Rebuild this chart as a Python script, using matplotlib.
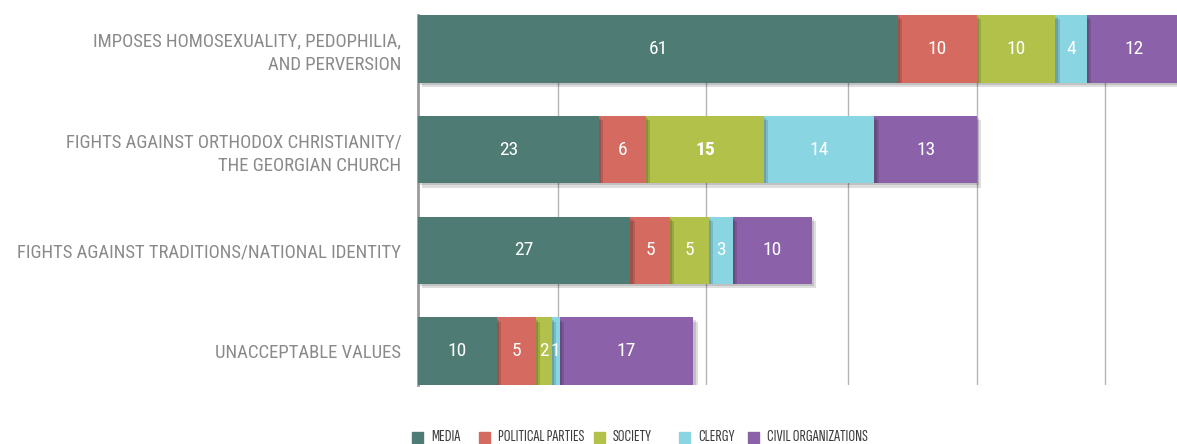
import matplotlib
matplotlib.use("Agg")
import matplotlib.pyplot as plt
import matplotlib.patheffects as pe
from matplotlib.patches import Rectangle

# data
categories = [
    "IMPOSES HOMOSEXUALITY, PEDOPHILIA,\nAND PERVERSION",
    "FIGHTS AGAINST ORTHODOX CHRISTIANITY/\nTHE GEORGIAN CHURCH",
    "FIGHTS AGAINST TRADITIONS/NATIONAL IDENTITY",
    "UNACCEPTABLE VALUES",
]
series_names = ["MEDIA", "POLITICAL PARTIES", "SOCIETY", "CLERGY", "CIVIL ORGANIZATIONS"]
media = [61, 23, 27, 10]
political_parties = [10, 6, 5, 5]
society = [10, 15, 5, 2]
clergy = [4, 14, 3, 1]
civil_orgs = [12, 13, 10, 17]

colors = ["#4E7C74", "#D46A60", "#B1C149", "#8AD5E2", "#8B62A9"]

plt.rcParams["font.family"] = ["Roboto Condensed", "DejaVu Sans"]

W, H = 1177, 444
fig = plt.figure(figsize=(W / 100, H / 100), dpi=100)
ax = fig.add_axes([418 / W, (H - 385) / H, (W - 418) / W, 370 / H])

series = [media, political_parties, society, clergy, civil_orgs]
y = list(range(len(categories)))
bar_h = 0.67
left = [0] * len(categories)
shadow = [pe.withSimplePatchShadow(offset=(3, -3), shadow_rgbFace="black", alpha=0.13),
          pe.withSimplePatchShadow(offset=(1.5, -1.5), shadow_rgbFace="black", alpha=0.13)]

# drawn so each segment's shadow falls on the one to its right
for i, vals in enumerate(series):
    bars = ax.barh(y, vals, left=left, height=bar_h, color=colors[i],
                   zorder=10 - i, linewidth=0)
    for b in bars:
        b.set_path_effects(shadow)
    for j, v in enumerate(vals):
        weight = "bold" if (i == 2 and j == 1) else "normal"
        ax.text(left[j] + v / 2, y[j], str(v), ha="center", va="center",
                color="white", fontsize=14, fontweight=weight, zorder=20)
    left = [l + v for l, v in zip(left, vals)]

ax.set_ylim(len(categories) - 1 + bar_h / 2, -bar_h / 2)
ax.set_xlim(0, (W - 418) / 7.87)

# vertical gridlines (uneven in the original)
for gx in [17.8, 36.6, 54.6, 71.0, 87.3]:
    ax.axvline(gx, color="#b4b4b4", linewidth=1, zorder=1)

for s in ["top", "right", "bottom"]:
    ax.spines[s].set_visible(False)
ax.spines["left"].set_color("#9a9a9a")
ax.spines["left"].set_linewidth(2)
ax.spines["left"].set_zorder(0)
ax.set_xticks([])
ax.set_yticks(y)
ax.set_yticklabels(categories, fontsize=13.5, color="#8a8a8a", linespacing=1.4)
ax.tick_params(axis="y", length=0, pad=12)

# legend drawn by hand along the bottom
leg_x = [412, 479, 594, 679, 748]
for name, c, lx in zip(series_names, colors, leg_x):
    fig.patches.append(Rectangle((lx / W, (H - 443) / H), 11 / W, 11 / H,
                                 transform=fig.transFigure, color=c))
    fig.text((lx + 19) / W, (H - 437) / H, name, ha="left", va="center",
             fontsize=12.2, color="#3c3c3c",
             family=["Sofia Sans Extra Condensed", "Roboto Condensed", "DejaVu Sans"])

fig.savefig("out.png", dpi=100)
